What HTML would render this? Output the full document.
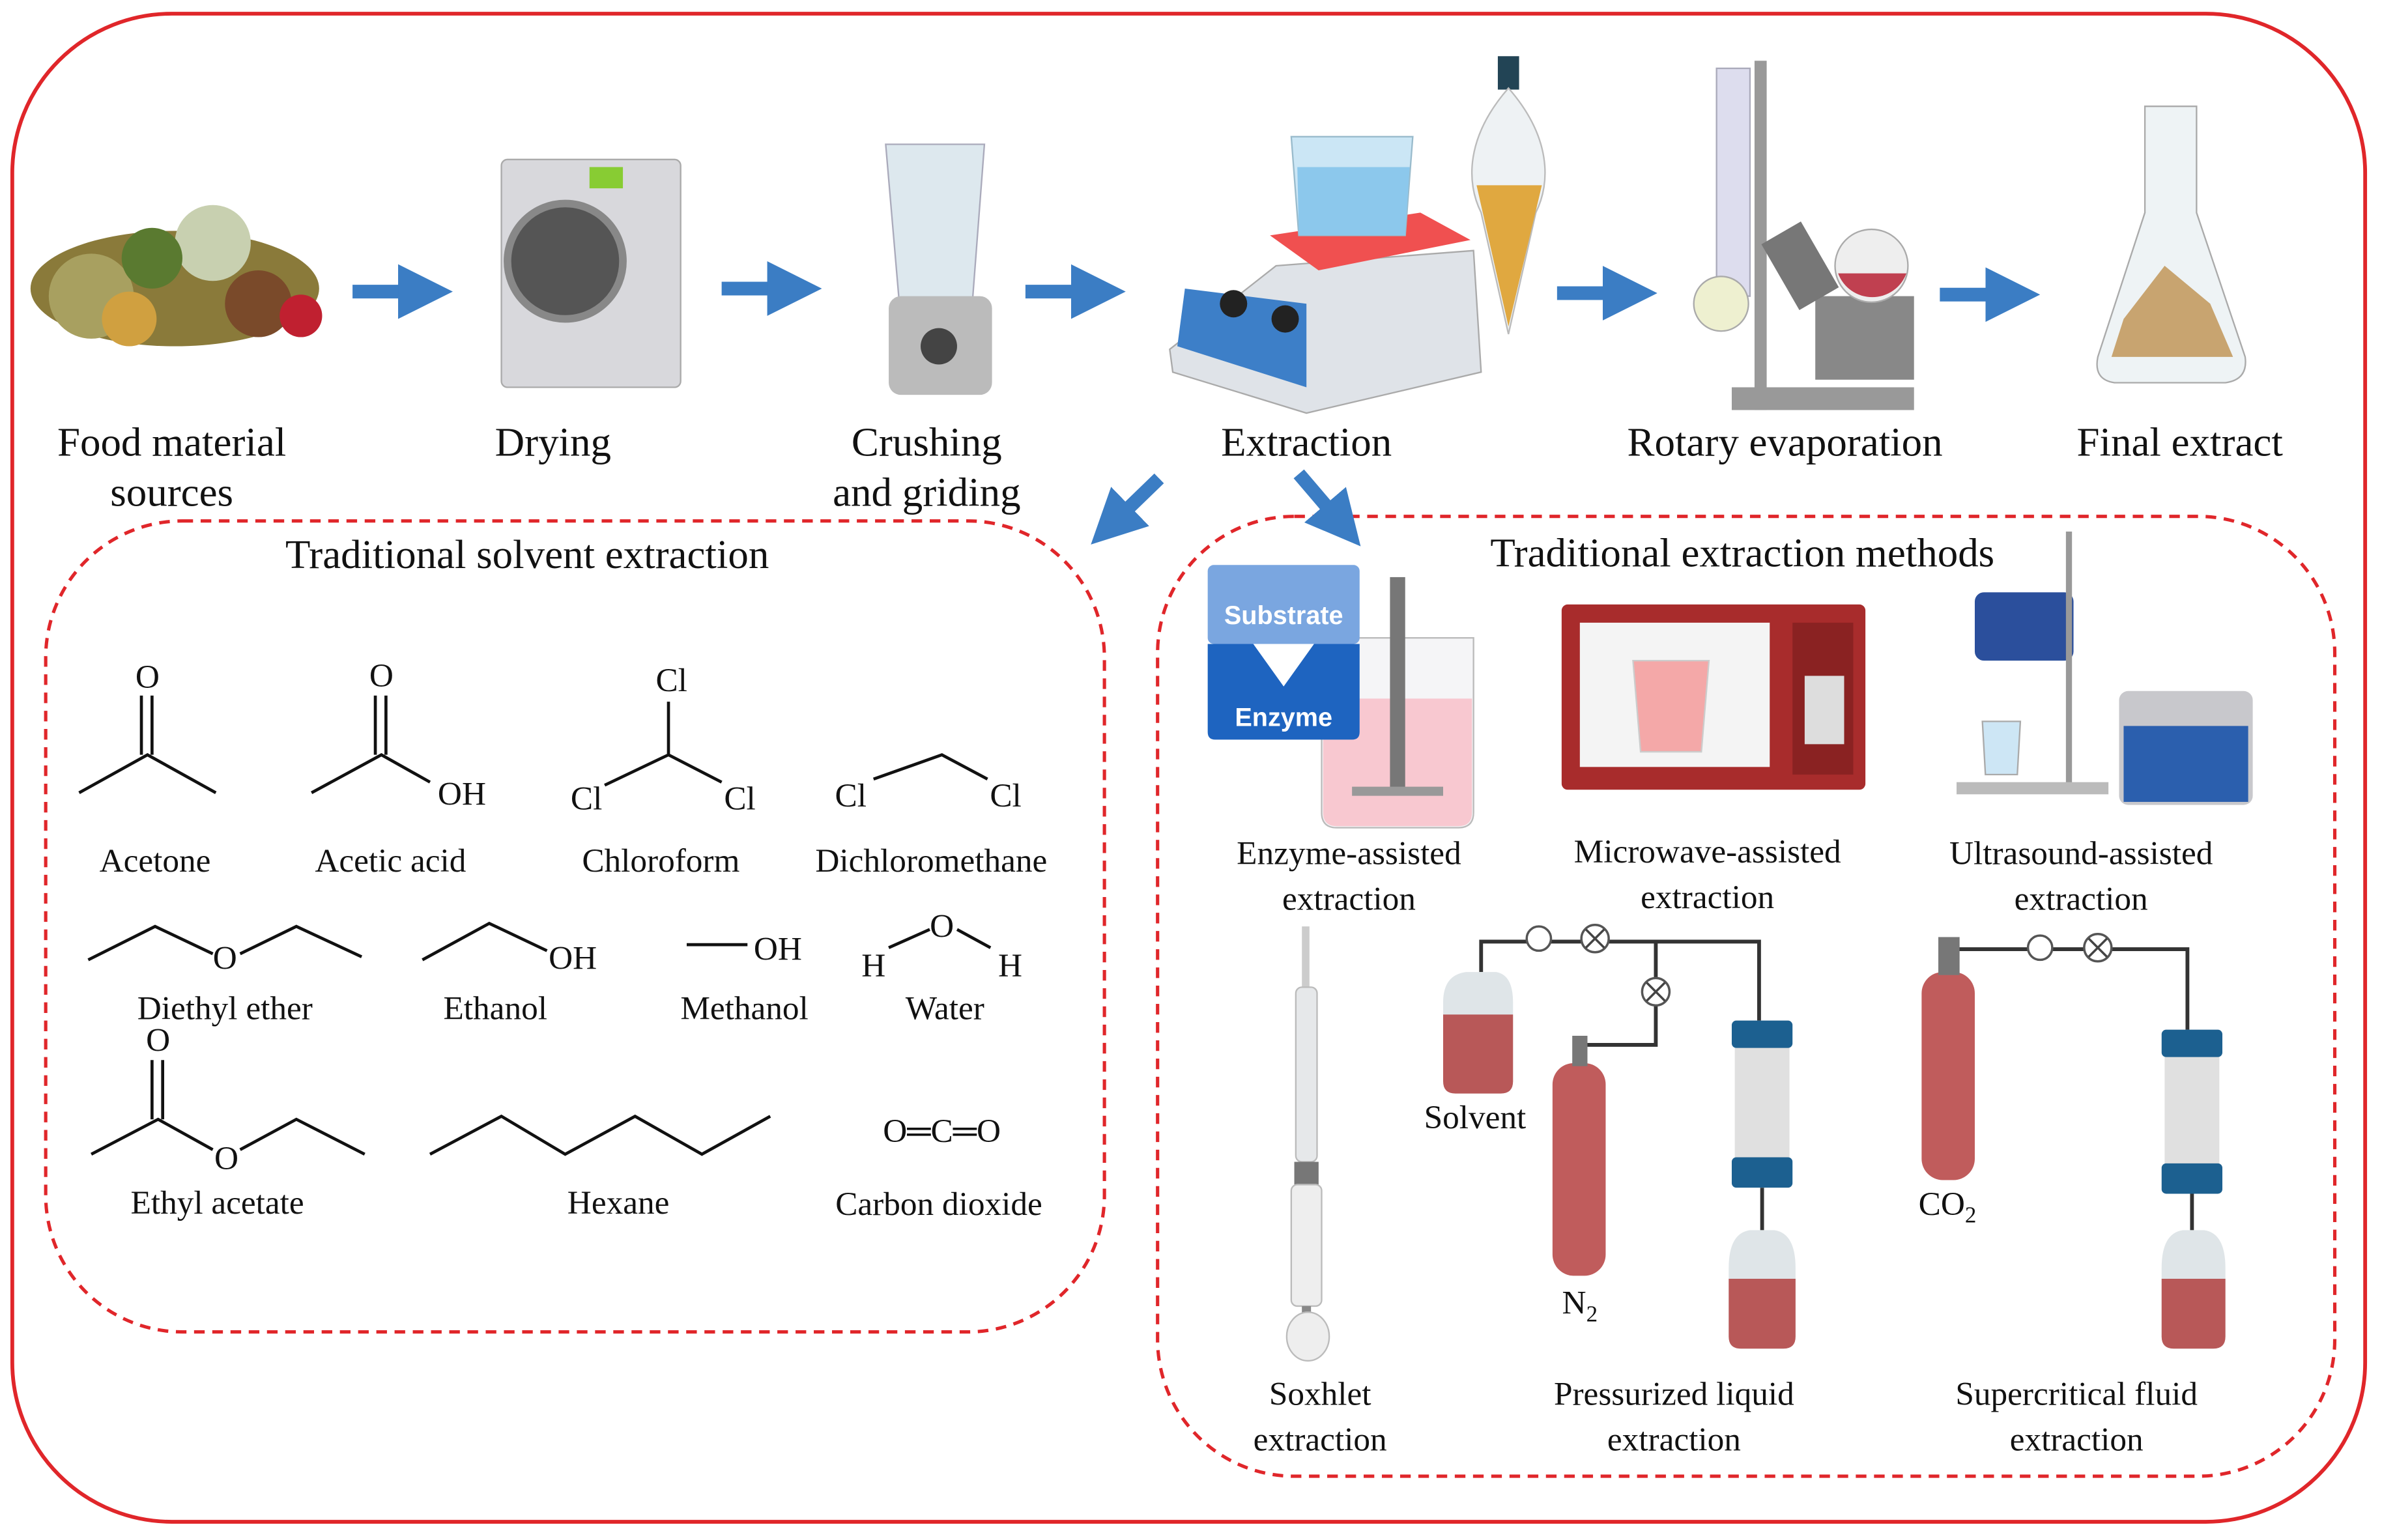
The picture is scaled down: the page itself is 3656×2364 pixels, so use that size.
<!DOCTYPE html>
<html><head><meta charset="utf-8"><style>
html,body{margin:0;padding:0;background:#fff}
svg{display:block}
text{font-family:"Liberation Serif",serif;fill:#111}
</style></head><body>
<svg width="3656" height="2364" viewBox="0 0 1568 1014" xmlns="http://www.w3.org/2000/svg">
<defs>
<marker id="ah" markerWidth="4" markerHeight="4" refX="2" refY="2" orient="auto" markerUnits="strokeWidth"><path d="M0,0 L4,2 L0,4 z" fill="#3b7dc4"/></marker>
</defs>
<rect x="8" y="9" width="1549" height="993" rx="105" fill="none" stroke="#e0262a" stroke-width="2.5"/>
<rect x="30" y="343" width="697" height="534" rx="90" fill="none" stroke="#e0262a" stroke-width="2.2" stroke-dasharray="7,5"/>
<rect x="762" y="340" width="775" height="632" rx="90" fill="none" stroke="#e0262a" stroke-width="2.2" stroke-dasharray="7,5"/>

<g stroke="#3b7dc4" stroke-width="9" fill="none">
<line x1="232" y1="192" x2="280" y2="192" marker-end="url(#ah)"/>
<line x1="475" y1="190" x2="523" y2="190" marker-end="url(#ah)"/>
<line x1="675" y1="192" x2="723" y2="192" marker-end="url(#ah)"/>
<line x1="1025" y1="193" x2="1073" y2="193" marker-end="url(#ah)"/>
<line x1="1277" y1="194" x2="1325" y2="194" marker-end="url(#ah)"/>
<line x1="763" y1="315" x2="731" y2="346" marker-end="url(#ah)"/>
<line x1="855" y1="312" x2="884" y2="346" marker-end="url(#ah)"/>
</g>

<ellipse cx="115" cy="190" rx="95" ry="38" fill="#8a7a3a"/>
<circle cx="60" cy="195" r="28" fill="#a8a060"/><circle cx="140" cy="160" r="25" fill="#c8d0b0"/>
<circle cx="170" cy="200" r="22" fill="#7a4a2a"/><circle cx="198" cy="208" r="14" fill="#c02030"/>
<circle cx="100" cy="170" r="20" fill="#5a7a30"/><circle cx="85" cy="210" r="18" fill="#d0a040"/>
<rect x="330" y="105" width="118" height="150" rx="4" fill="#d8d8dc" stroke="#aaa"/>
<circle cx="372" cy="172" r="38" fill="#555" stroke="#888" stroke-width="5"/>
<rect x="388" y="110" width="22" height="14" fill="#8c3"/>
<path d="M583 95 L648 95 L640 200 L592 200 z" fill="#dde8ee" stroke="#aab"/>
<rect x="585" y="195" width="68" height="65" rx="8" fill="#bbb"/><circle cx="618" cy="228" r="12" fill="#444"/>
<path d="M770 230 L840 175 L970 165 L975 245 L860 272 L772 245 z" fill="#dfe3e8" stroke="#aaa"/>
<path d="M775 228 L860 255 L860 200 L780 190 z" fill="#3d7fc8"/>
<circle cx="812" cy="200" r="9" fill="#222"/><circle cx="846" cy="210" r="9" fill="#222"/>
<path d="M836 155 L935 140 L968 158 L868 178 z" fill="#f05050"/>
<path d="M850 90 L930 90 L925 155 L855 155 z" fill="#cbe6f5" stroke="#9bc"/>
<path d="M854 110 L928 110 L925 155 L855 155 z" fill="#8cc8ec"/>
<rect x="986" y="37" width="14" height="22" fill="#245"/>
<path d="M993 58 C965 90 965 120 975 140 L993 220 L1011 140 C1021 120 1021 90 993 58 z" fill="#eef2f4" stroke="#bbb"/>
<path d="M972 122 L1015 122 L993 215 z" fill="#e0a840"/>
<rect x="1130" y="45" width="22" height="150" fill="#dde" stroke="#aab"/>
<rect x="1155" y="40" width="8" height="230" fill="#999"/>
<rect x="1140" y="255" width="120" height="15" fill="#999"/>
<rect x="1195" y="195" width="65" height="55" fill="#888"/>
<circle cx="1232" cy="175" r="24" fill="#eee" stroke="#aaa"/>
<path d="M1210 180 A24 24 0 0 0 1255 180 z" fill="#c04050"/>
<circle cx="1133" cy="200" r="18" fill="#eef0d0" stroke="#aaa"/>
<rect x="1170" y="150" width="30" height="50" fill="#777" transform="rotate(-30 1185 175)"/>
<path d="M1412 70 L1446 70 L1446 140 L1478 235 Q1480 250 1465 252 L1392 252 Q1378 250 1381 235 L1412 140 z" fill="#eef3f5" stroke="#aaa"/>
<path d="M1390 235 L1470 235 L1455 200 L1425 175 L1398 210 z" fill="#c8a470"/>

<g font-size="27" text-anchor="middle">
<text x="113" y="300">Food material</text><text x="113" y="333">sources</text>
<text x="364" y="300">Drying</text>
<text x="610" y="300">Crushing</text><text x="610" y="333">and griding</text>
<text x="860" y="300">Extraction</text>
<text x="1175" y="300">Rotary evaporation</text>
<text x="1435" y="300">Final extract</text>
<text x="347" y="374">Traditional solvent extraction</text>
<text x="1147" y="373">Traditional extraction methods</text>
</g>

<g stroke="#111" stroke-width="2" fill="none">
<path d="M93 458 V497 M100 458 V497 M52 522 L97 497 L142 522"/>
<path d="M247 458 V497 M254 458 V497 M205 522 L251 497 L283 515"/>
<path d="M440 462 V497 M440 497 L398 517 M440 497 L475 515"/>
<path d="M575 513 L620 497 L650 513"/>
<path d="M58 632 L102 610 L140 628 M158 628 L195 610 L238 630"/>
<path d="M278 632 L322 608 L360 626"/>
<path d="M452 622 H492"/>
<path d="M585 624 L612 612 M630 612 L652 624"/>
<path d="M100 698 V737 M107 698 V737 M60 760 L104 737 L140 757 M158 757 L195 737 L240 760"/>
<path d="M283 760 L330 735 L372 760 L418 735 L462 760 L507 735"/>
</g>
<g font-size="22" text-anchor="middle">
<text x="97" y="453">O</text><text x="251" y="452">O</text><text x="304" y="530">OH</text>
<text x="442" y="455">Cl</text><text x="386" y="533">Cl</text><text x="487" y="533">Cl</text>
<text x="560" y="531">Cl</text><text x="662" y="531">Cl</text>
<text x="148" y="638">O</text><text x="377" y="638">OH</text><text x="512" y="632">OH</text>
<text x="575" y="643">H</text><text x="620" y="617">O</text><text x="665" y="643">H</text>
<text x="104" y="692">O</text><text x="149" y="770">O</text>
<text x="620" y="752">O═C═O</text>
</g>
<g font-size="22" text-anchor="middle">
<text x="102" y="574">Acetone</text><text x="257" y="574">Acetic acid</text><text x="435" y="574">Chloroform</text><text x="613" y="574">Dichloromethane</text>
<text x="148" y="671">Diethyl ether</text><text x="326" y="671">Ethanol</text><text x="490" y="671">Methanol</text><text x="622" y="671">Water</text>
<text x="143" y="799">Ethyl acetate</text><text x="407" y="799">Hexane</text><text x="618" y="800">Carbon dioxide</text>
</g>

<path d="M870 420 L970 420 L970 535 Q970 545 960 545 L880 545 Q870 545 870 535 z" fill="#f5f5f7" stroke="#bbb"/>
<path d="M871 460 L969 460 L969 535 Q969 544 960 544 L880 544 Q871 544 871 535 z" fill="#f8c8d0"/>
<rect x="915" y="380" width="10" height="140" fill="#777"/><rect x="890" y="518" width="60" height="6" fill="#999"/>
<rect x="795" y="372" width="100" height="52" rx="4" fill="#7aa6e0"/>
<path d="M795 424 L825 424 L845 452 L865 424 L895 424 L895 482 Q895 487 890 487 L800 487 Q795 487 795 482 z" fill="#1e64c0"/>
<text x="845" y="411" font-size="17" text-anchor="middle" style="fill:#fff;font-family:'Liberation Sans',sans-serif;font-weight:bold">Substrate</text>
<text x="845" y="478" font-size="17" text-anchor="middle" style="fill:#fff;font-family:'Liberation Sans',sans-serif;font-weight:bold">Enzyme</text>
<rect x="1028" y="398" width="200" height="122" rx="4" fill="#a82c2c"/>
<rect x="1040" y="410" width="125" height="95" fill="#f4f4f4"/>
<rect x="1180" y="410" width="40" height="100" fill="#8a2222"/>
<rect x="1188" y="445" width="26" height="45" fill="#ddd"/>
<path d="M1075 435 L1125 435 L1120 495 L1080 495 z" fill="#f4a8a8" stroke="#ccc"/>
<rect x="1300" y="390" width="65" height="45" rx="6" fill="#2b4f9c"/>
<rect x="1360" y="350" width="4" height="170" fill="#999"/>
<rect x="1288" y="515" width="100" height="8" fill="#bbb"/>
<path d="M1305 475 L1330 475 L1328 510 L1307 510 z" fill="#cde6f5" stroke="#aaa"/>
<rect x="1395" y="455" width="88" height="75" rx="6" fill="#c8c8cc"/>
<rect x="1398" y="478" width="82" height="50" fill="#2b5fae"/>
<g font-size="22" text-anchor="middle">
<text x="888" y="569">Enzyme-assisted</text><text x="888" y="599">extraction</text>
<text x="1124" y="568">Microwave-assisted</text><text x="1124" y="598">extraction</text>
<text x="1370" y="569">Ultrasound-assisted</text><text x="1370" y="599">extraction</text>
</g>

<rect x="857" y="610" width="5" height="40" fill="#ccc"/>
<rect x="853" y="650" width="14" height="115" rx="4" fill="#e6e8ea" stroke="#bbb"/>
<rect x="852" y="765" width="16" height="15" fill="#777"/>
<rect x="850" y="780" width="20" height="80" rx="4" fill="#eee" stroke="#bbb"/>
<rect x="857" y="860" width="6" height="20" fill="#888"/>
<ellipse cx="861" cy="880" rx="14" ry="16" fill="#eee" stroke="#bbb"/>
<g stroke="#333" stroke-width="2.5" fill="none">
<path d="M975 640 V620 H1158 V672 M1090 620 V688 H1045"/>
<path d="M1160 782 V810"/>
<path d="M1285 625 H1440 V678 M1443 785 V810"/>
</g>
<g fill="#fff" stroke="#555" stroke-width="1.5">
<circle cx="1013" cy="618" r="8"/><circle cx="1050" cy="618" r="9"/><circle cx="1090" cy="653" r="9"/>
<circle cx="1343" cy="624" r="8"/><circle cx="1381" cy="624" r="9"/>
</g>
<g stroke="#444" stroke-width="1.5">
<path d="M1044 612 L1056 624 M1056 612 L1044 624 M1084 647 L1096 659 M1096 647 L1084 659 M1375 618 L1387 630 M1387 618 L1375 630"/>
</g>
<path d="M950 660 Q950 642 965 640 L985 640 Q996 642 996 660 L996 712 Q996 720 988 720 L958 720 Q950 720 950 712 z" fill="#dfe5e8"/>
<path d="M950 668 H996 V712 Q996 720 988 720 L958 720 Q950 720 950 712 z" fill="#b85858"/>
<rect x="1022" y="700" width="35" height="140" rx="14" fill="#c05c5c"/><rect x="1035" y="682" width="10" height="20" fill="#777"/>
<rect x="1142" y="672" width="36" height="110" fill="#e0e0e0"/>
<rect x="1140" y="672" width="40" height="18" rx="3" fill="#1c6090"/><rect x="1140" y="762" width="40" height="20" rx="3" fill="#1c6090"/>
<path d="M1138 835 Q1138 812 1152 810 L1168 810 Q1182 812 1182 835 L1182 880 Q1182 888 1174 888 L1146 888 Q1138 888 1138 880 z" fill="#dfe5e8"/>
<path d="M1138 842 H1182 V880 Q1182 888 1174 888 L1146 888 Q1138 888 1138 880 z" fill="#b85858"/>
<rect x="1265" y="640" width="35" height="137" rx="14" fill="#c05c5c"/><rect x="1276" y="617" width="14" height="25" fill="#777"/>
<rect x="1425" y="680" width="36" height="105" fill="#e0e0e0"/>
<rect x="1423" y="678" width="40" height="18" rx="3" fill="#1c6090"/><rect x="1423" y="766" width="40" height="20" rx="3" fill="#1c6090"/>
<path d="M1423 835 Q1423 812 1437 810 L1451 810 Q1465 812 1465 835 L1465 880 Q1465 888 1457 888 L1431 888 Q1423 888 1423 880 z" fill="#dfe5e8"/>
<path d="M1423 842 H1465 V880 Q1465 888 1457 888 L1431 888 Q1423 888 1423 880 z" fill="#b85858"/>
<g font-size="22" text-anchor="middle">
<text x="971" y="743">Solvent</text>
<text x="1040" y="865">N<tspan font-size="15" dy="5">2</tspan></text>
<text x="1282" y="800">CO<tspan font-size="15" dy="5">2</tspan></text>
<text x="869" y="925">Soxhlet</text><text x="869" y="955">extraction</text>
<text x="1102" y="925">Pressurized liquid</text><text x="1102" y="955">extraction</text>
<text x="1367" y="925">Supercritical fluid</text><text x="1367" y="955">extraction</text>
</g>
</svg>
</body></html>
